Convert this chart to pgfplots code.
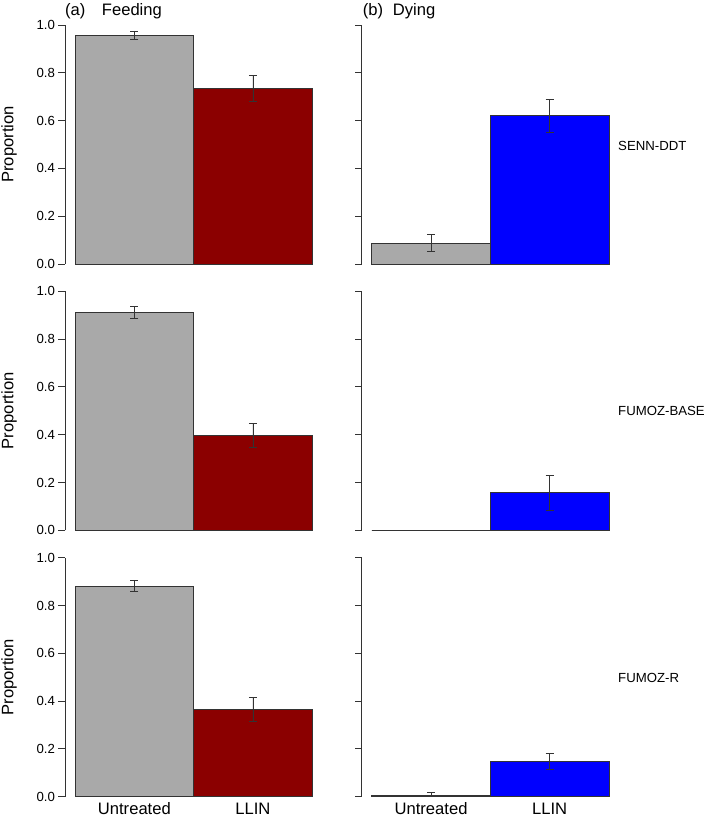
\documentclass[border=0pt]{standalone}
\usepackage{pgfplots}
\pgfplotsset{compat=1.18}
\usepackage{fontspec}
\setmainfont{Liberation Sans}
\definecolor{bgray}{HTML}{A9A9A9}
\definecolor{dred}{HTML}{8B0000}
\definecolor{bblue}{HTML}{0000FF}
\definecolor{ink}{HTML}{333333}
\newcommand{\lab}{\fontsize{16.6}{19}\selectfont}
\newcommand{\sml}{\fontsize{13.2}{15}\selectfont}
\pgfplotsset{
 panel/.style={
  scale only axis, width=259.1pt, height=239pt,
  xmin=-0.585, xmax=1.6, ymin=0, ymax=1,
  anchor=south west,
  axis lines*=left,
  x axis line style={draw=none},
  xtick={0,1}, xtick style={draw=none}, xticklabels={},
  ytick={0,0.2,0.4,0.6,0.8,1},
  tick align=outside, major tick length=6.5pt,
  y axis line style={ink, line width=0.8pt},
  ytick style={ink, line width=0.8pt},
  yticklabel style={font=\sml, /pgf/number format/.cd, fixed, fixed zerofill, precision=1, assume math mode=true},
  xticklabel style={font=\lab, yshift=4pt},
  every axis y label/.style={at={(rel axis cs:0,0.5)}, xshift=-56pt, rotate=90, anchor=center, font=\lab},
  clip=false,
  ybar, bar width=1,
 },
 leftp/.style={panel, ylabel={Proportion}},
 rightp/.style={panel, yticklabels={}},
 bar/.style={fill=#1, draw=ink, line width=0.8pt, bar shift=0pt},
 eb/.style={error bars/.cd, y dir=both, y explicit,
   error bar style={ink, line width=0.9pt},
   error mark options={rotate=90, mark size=4pt, ink, line width=0.9pt}},
}
\begin{document}
\begin{tikzpicture}
\useasboundingbox (0pt,0pt) rectangle (709pt,820pt);
% ---------- top row ----------
\begin{axis}[leftp, at={(65pt,556pt)}]
\addplot[bar=bgray, eb] coordinates {(0,0.958) += (0,0.017) -= (0,0.018)};
\addplot[bar=dred, eb] coordinates {(1,0.735) += (0,0.054) -= (0,0.053)};
\end{axis}
\begin{axis}[rightp, at={(361.7pt,556pt)}]
\addplot[bar=bgray, eb] coordinates {(0,0.088) += (0,0.036) -= (0,0.035)};
\addplot[bar=bblue, eb] coordinates {(1,0.620) += (0,0.069) -= (0,0.068)};
\end{axis}
% ---------- middle row ----------
\begin{axis}[leftp, at={(65pt,289.7pt)}]
\addplot[bar=bgray, eb] coordinates {(0,0.911) += (0,0.026) -= (0,0.025)};
\addplot[bar=dred, eb] coordinates {(1,0.399) += (0,0.048) -= (0,0.051)};
\end{axis}
\begin{axis}[rightp, at={(361.7pt,289.7pt)}]
\addplot[bar=bgray] coordinates {(0,0.0)};
\addplot[bar=bblue, eb] coordinates {(1,0.158) += (0,0.073) -= (0,0.076)};
\end{axis}
% ---------- bottom row ----------
\begin{axis}[leftp, at={(65pt,23.3pt)}, xticklabels={Untreated,LLIN}]
\addplot[bar=bgray, eb] coordinates {(0,0.882) += (0,0.021) -= (0,0.024)};
\addplot[bar=dred, eb] coordinates {(1,0.366) += (0,0.051) -= (0,0.053)};
\end{axis}
\begin{axis}[rightp, at={(361.7pt,23.3pt)}, xticklabels={Untreated,LLIN}]
\addplot[bar=bgray, eb] coordinates {(0,0.007) += (0,0.010) -= (0,0.007)};
\addplot[bar=bblue, eb] coordinates {(1,0.149) += (0,0.031) -= (0,0.033)};
\end{axis}
% ---------- titles and strain labels ----------
\node[anchor=west, inner sep=0pt, font=\lab] at (65pt,809pt) {(a)};
\node[anchor=west, inner sep=0pt, font=\lab] at (101.7pt,809pt) {Feeding};
\node[anchor=west, inner sep=0pt, font=\lab] at (362.7pt,809pt) {(b)};
\node[anchor=west, inner sep=0pt, font=\lab] at (392.7pt,809pt) {Dying};
\node[anchor=west, inner sep=0pt, font=\sml] at (618pt,674pt) {SENN-DDT};
\node[anchor=west, inner sep=0pt, font=\sml] at (618pt,409pt) {FUMOZ-BASE};
\node[anchor=west, inner sep=0pt, font=\sml] at (618pt,142pt) {FUMOZ-R};
\end{tikzpicture}
\end{document}
